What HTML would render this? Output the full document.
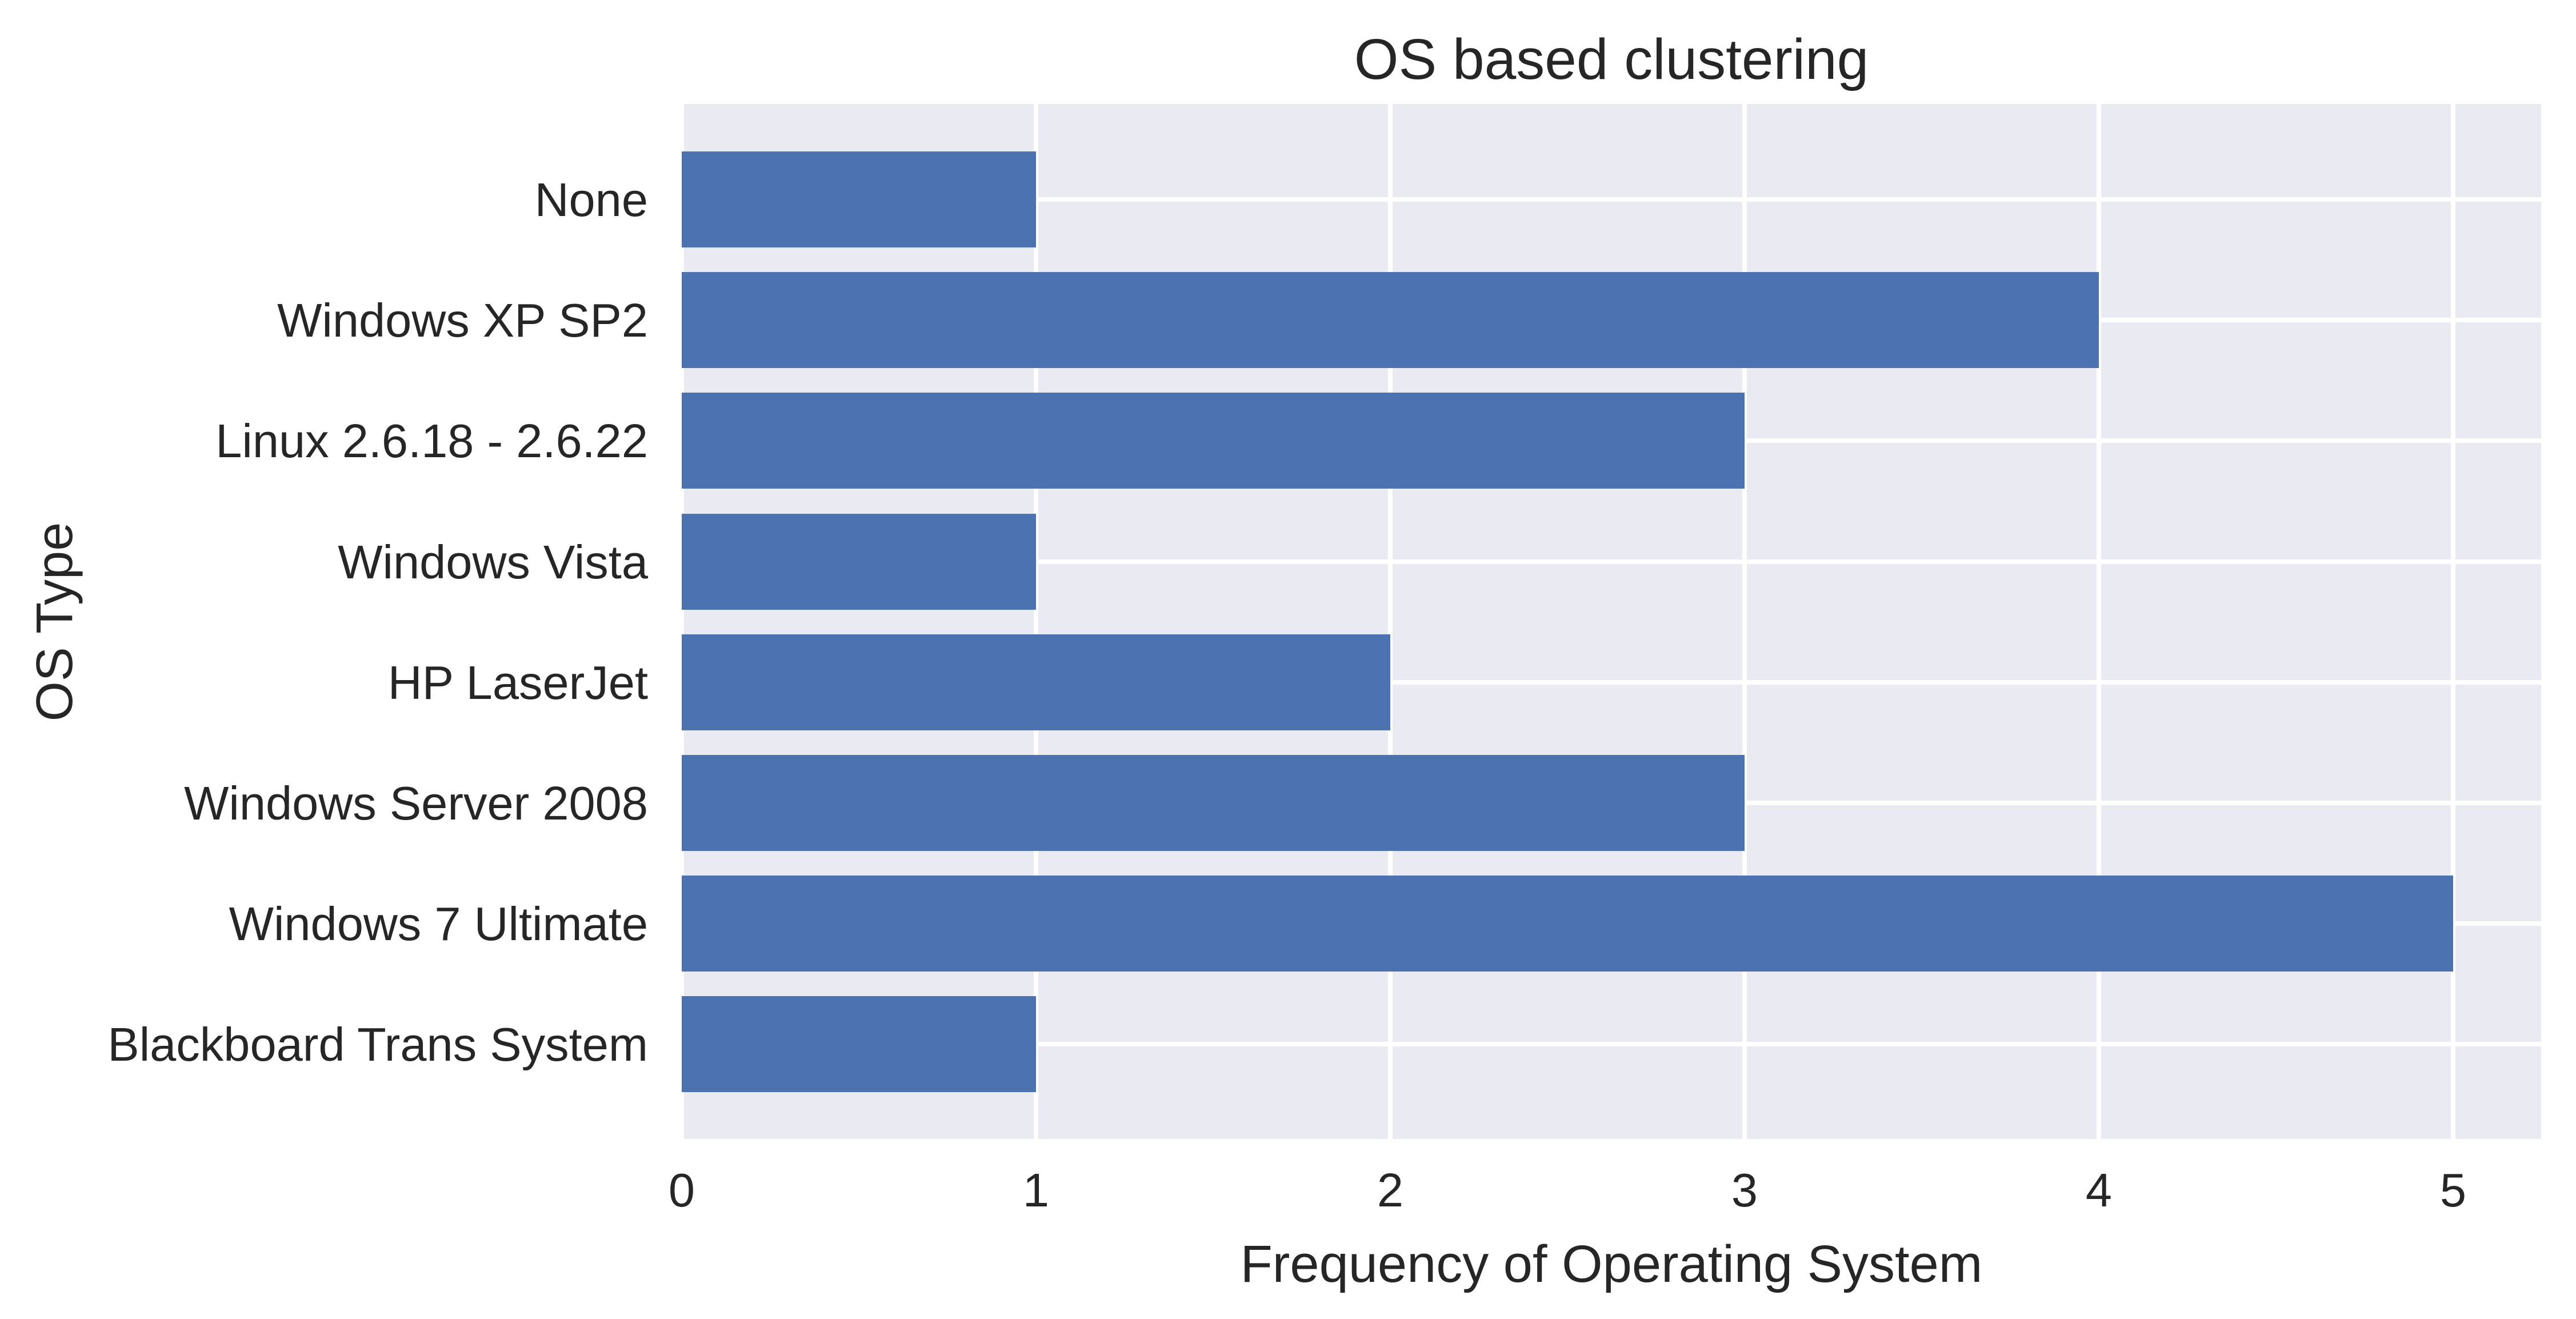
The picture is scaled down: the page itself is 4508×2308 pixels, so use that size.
<!DOCTYPE html>
<html><head><meta charset="utf-8"><style>
html,body{margin:0;padding:0;background:#fff;}
svg{display:block;}
text{font-family:"Liberation Sans",Arial,sans-serif;fill:#262626;}
</style></head><body>
<svg width="4508" height="2308" viewBox="0 0 4508 2308" xmlns="http://www.w3.org/2000/svg">
<rect x="0" y="0" width="4508" height="2308" fill="#fff"/>
<rect x="1193" y="182" width="3254" height="1811" fill="#eaeaf2"/>
<g stroke="#fff" stroke-width="8">
<line x1="1193" y1="182" x2="1193" y2="1993"/>
<line x1="1813" y1="182" x2="1813" y2="1993"/>
<line x1="2433" y1="182" x2="2433" y2="1993"/>
<line x1="3053" y1="182" x2="3053" y2="1993"/>
<line x1="3673" y1="182" x2="3673" y2="1993"/>
<line x1="4293" y1="182" x2="4293" y2="1993"/>
<line x1="1193" y1="349" x2="4447" y2="349"/>
<line x1="1193" y1="560" x2="4447" y2="560"/>
<line x1="1193" y1="771" x2="4447" y2="771"/>
<line x1="1193" y1="983" x2="4447" y2="983"/>
<line x1="1193" y1="1194" x2="4447" y2="1194"/>
<line x1="1193" y1="1405" x2="4447" y2="1405"/>
<line x1="1193" y1="1616" x2="4447" y2="1616"/>
<line x1="1193" y1="1827" x2="4447" y2="1827"/>
</g>
<g fill="#4c72b0">
<rect x="1193" y="265" width="620" height="168"/>
<rect x="1193" y="476" width="2480" height="168"/>
<rect x="1193" y="687" width="1860" height="168"/>
<rect x="1193" y="899" width="620" height="168"/>
<rect x="1193" y="1110" width="1240" height="168"/>
<rect x="1193" y="1321" width="1860" height="168"/>
<rect x="1193" y="1532" width="3100" height="168"/>
<rect x="1193" y="1743" width="620" height="168"/>
</g>
<g font-size="83" text-anchor="end">
<text x="1134" y="378">None</text>
<text x="1134" y="589">Windows XP SP2</text>
<text x="1134" y="800">Linux 2.6.18 - 2.6.22</text>
<text x="1134" y="1012">Windows Vista</text>
<text x="1134" y="1223">HP LaserJet</text>
<text x="1134" y="1434">Windows Server 2008</text>
<text x="1134" y="1645">Windows 7 Ultimate</text>
<text x="1134" y="1856">Blackboard Trans System</text>
</g>
<g font-size="83" text-anchor="middle">
<text x="1193" y="2111">0</text>
<text x="1813" y="2111">1</text>
<text x="2433" y="2111">2</text>
<text x="3053" y="2111">3</text>
<text x="3673" y="2111">4</text>
<text x="4293" y="2111">5</text>
</g>
<text x="2820" y="2243" font-size="92" text-anchor="middle">Frequency of Operating System</text>
<text x="2820" y="138" font-size="100" text-anchor="middle">OS based clustering</text>
<text transform="translate(126,1088) rotate(-90)" font-size="90" text-anchor="middle">OS Type</text>
</svg>
</body></html>
